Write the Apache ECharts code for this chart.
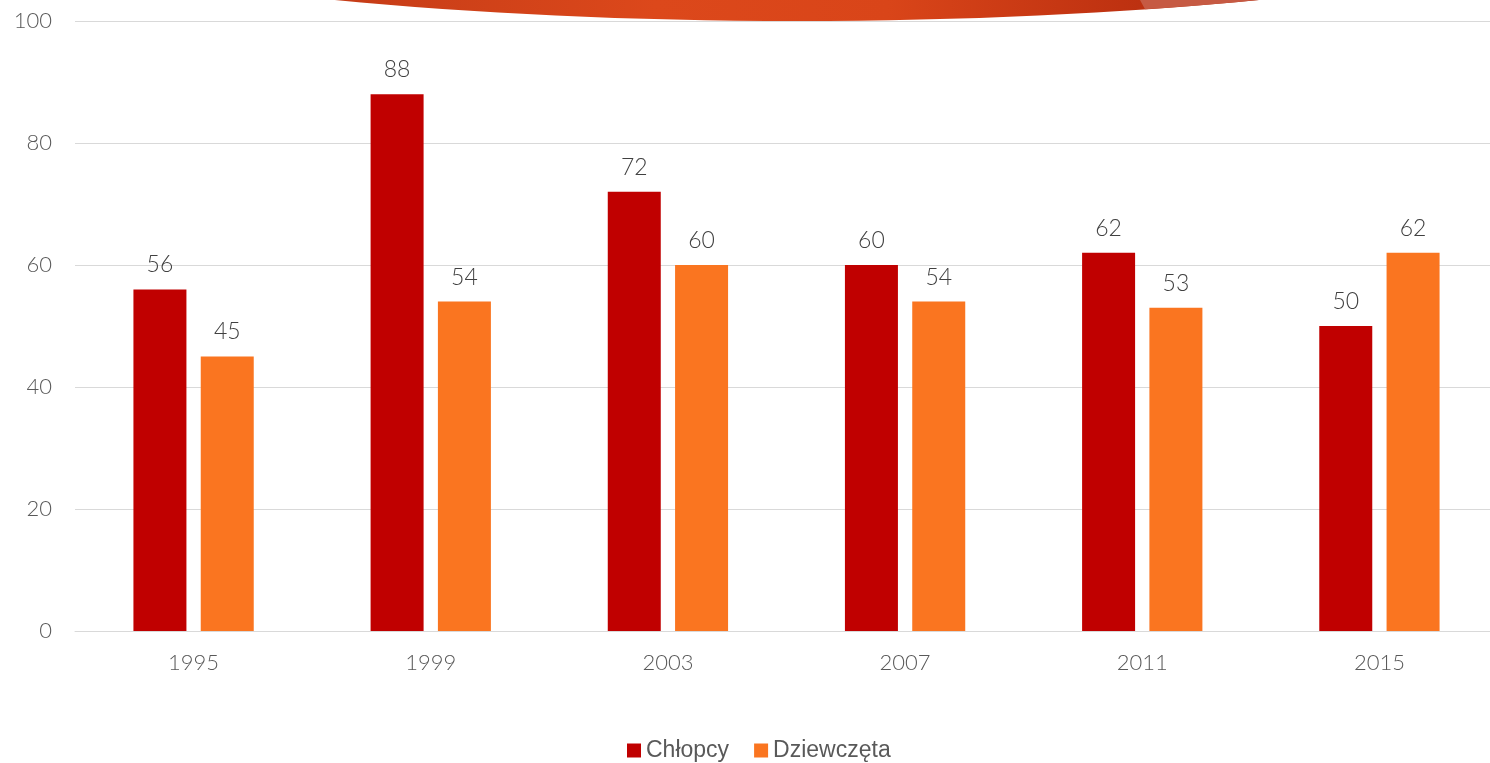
<!DOCTYPE html>
<html>
<head>
<meta charset="utf-8">
<script src="https://cdn.jsdelivr.net/npm/echarts@6/dist/echarts.min.js"></script>
<style>
	html, body { margin: 0; padding: 0; background: #fff; }
	#chart { width: 1490px; height: 763px; }
</style>
</head>
<body>
<div id="chart"></div>
<script>
// dane
var years = ['1995', '1999', '2003', '2007', '2011', '2015'];
var chlopcy = [56, 88, 72, 60, 62, 50];
var dziewczeta = [45, 54, 60, 54, 53, 62];
var seriesNames = ['Chłopcy', 'Dziewczęta'];

var labelFont = 'Lato, "DejaVu Sans", sans-serif';

var chart = echarts.init(document.getElementById('chart'));

// dekoracja: elipsa u góry slajdu
var deco = { cx: 797, cy: -179, rx: 1035, ry: 200 };

// jaśniejszy fragment dekoracji - punkty po łuku elipsy
function arcPoints(x0, x1, steps) {
	var pts = [];
	for (var i = 0; i <= steps; i++) {
		var x = x0 + (x1 - x0) * i / steps;
		var dx = (x - deco.cx) / deco.rx;
		pts.push([x, deco.cy + deco.ry * Math.sqrt(Math.max(0, 1 - dx * dx))]);
	}
	return pts;
}
var lightPts = [[1140, 0], [1262, 0]].concat(arcPoints(1145, 1262, 10).reverse());

var option = {
	animation: false,
	backgroundColor: '#ffffff',
	graphic: [{
		type: 'ellipse',
		z: -10,
		silent: true,
		shape: deco,
		style: {
			fill: {
				type: 'linear', global: true,
				x: 330, x2: 1260, y: 0, y2: 0,
				colorStops: [
					{ offset: 0, color: '#c53c17' },
					{ offset: 0.35, color: '#dc481b' },
					{ offset: 0.6, color: '#d94519' },
					{ offset: 0.85, color: '#bf3211' },
					{ offset: 1, color: '#b02c0e' }
				]
			}
		}
	}, {
		type: 'polygon',
		z: -9,
		silent: true,
		shape: { points: lightPts },
		style: { fill: '#c65a43' }
	}],
	legend: {
		data: seriesNames,
		top: 734,
		left: 622,
		itemWidth: 14,
		itemHeight: 14,
		itemGap: 25,
		icon: 'rect',
		textStyle: {
			fontFamily: '"Liberation Sans", Arial, sans-serif',
			fontSize: 23,
			color: '#595959'
		}
	},
	grid: {
		left: 75,
		right: -8,
		top: 21,
		bottom: 132,
		containLabel: false,
		outerBoundsMode: 'none'
	},
	xAxis: {
		type: 'category',
		data: years,
		axisLine: { lineStyle: { color: '#d9d9d9', width: 1 } },
		axisTick: { show: false },
		axisLabel: {
			color: '#595959',
			fontFamily: labelFont,
			fontWeight: 300,
			fontSize: 22,
			margin: 21
		}
	},
	yAxis: {
		type: 'value',
		min: 0,
		max: 100,
		interval: 20,
		axisLine: { show: false },
		axisTick: { show: false },
		splitLine: { lineStyle: { color: '#d9d9d9', width: 1 } },
		axisLabel: {
			color: '#595959',
			fontFamily: labelFont,
			fontWeight: 300,
			fontSize: 22,
			margin: 23
		}
	},
	series: [{
		name: seriesNames[0],
		type: 'bar',
		data: chlopcy,
		barWidth: 53,
		barGap: '27%',
		itemStyle: { color: '#c00000' },
		label: {
			show: true,
			position: 'top',
			distance: 13,
			color: '#404040',
			fontFamily: labelFont,
			fontWeight: 300,
			fontSize: 23
		}
	}, {
		name: seriesNames[1],
		type: 'bar',
		data: dziewczeta,
		barWidth: 53,
		barGap: '27%',
		itemStyle: { color: '#fa7520' },
		label: {
			show: true,
			position: 'top',
			distance: 13,
			color: '#404040',
			fontFamily: labelFont,
			fontWeight: 300,
			fontSize: 23
		}
	}]
};
chart.setOption(option);
</script>
</body>
</html>
